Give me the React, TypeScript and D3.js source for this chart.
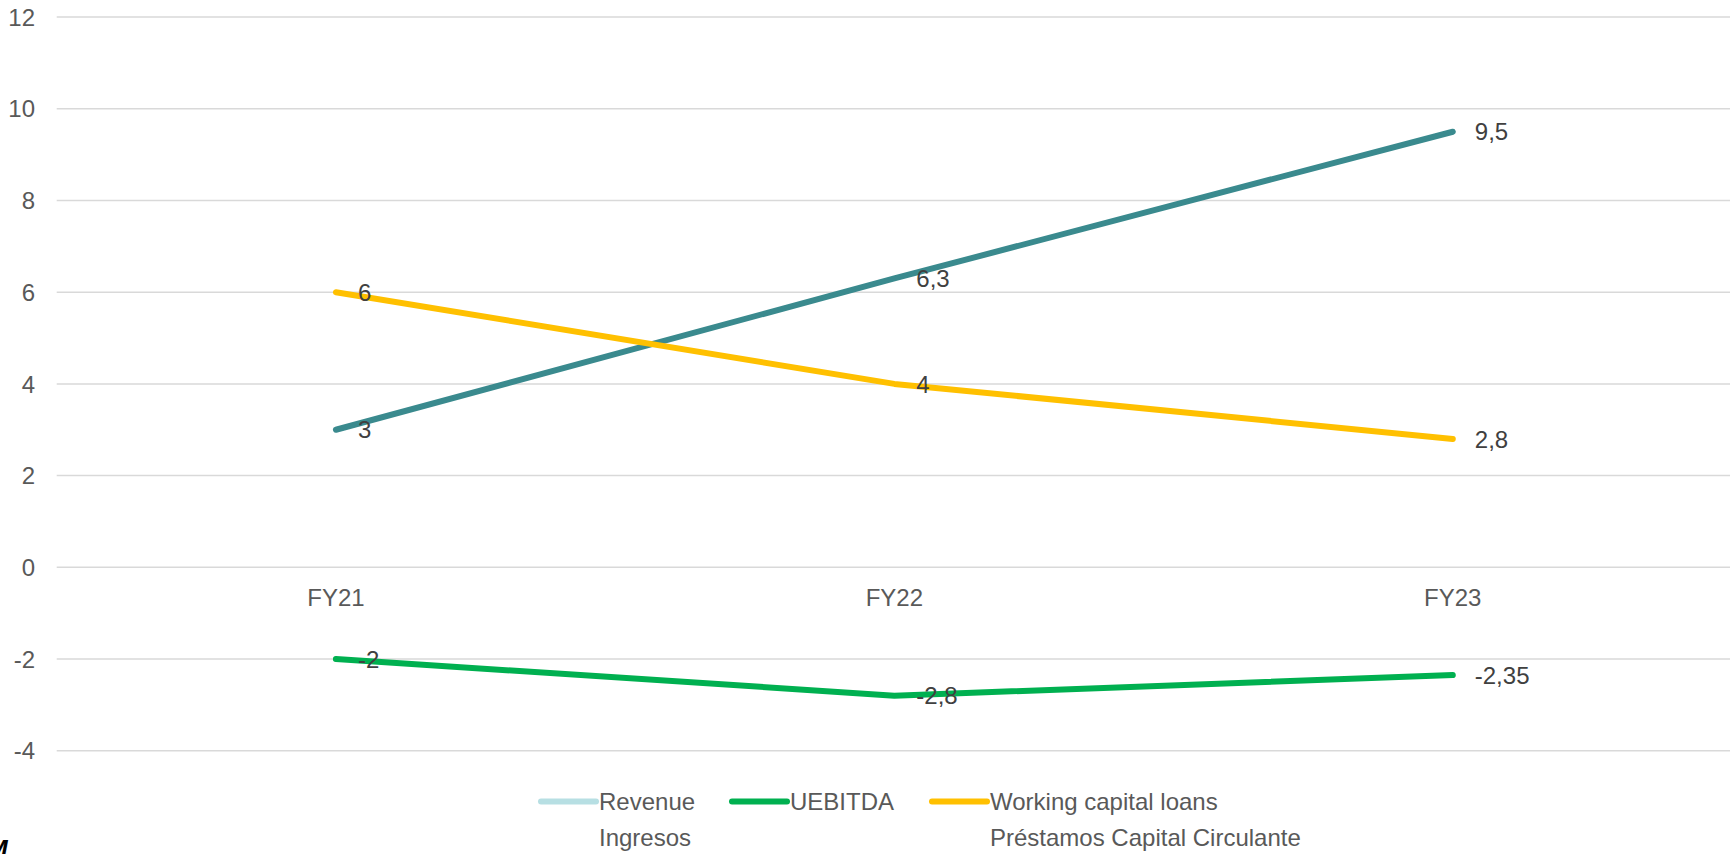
import React, { useEffect, useRef } from "react";
import * as d3 from "d3";

// chart data
const categories = ["FY21", "FY22", "FY23"];
const revenueValues = [3, 6.3, 9.5];
const uebitdaValues = [-2, -2.8, -2.35];
const wcLoanValues = [6, 4, 2.8];
const yTicks = [-4, -2, 0, 2, 4, 6, 8, 10, 12];

const legendItems = [
  { en: "Revenue", es: "Ingresos", color: "#b7dfe3" },
  { en: "UEBITDA", es: "", color: "#00b050" },
  { en: "Working capital loans", es: "Préstamos Capital Circulante", color: "#ffc000" },
];

const W = 1730;
const H = 854;

export default function App() {
  const ref = useRef<SVGSVGElement>(null);

  useEffect(() => {
    const svg = d3.select(ref.current);
    svg.selectAll("*").remove();

    const font = "'Liberation Sans', Arial, sans-serif";
    const left = 56.7;
    const right = 1732;

    const x = d3.scaleBand().domain(categories).range([left, right]);
    const cx = (c: string) => (x(c) as number) + x.bandwidth() / 2;
    const y = d3.scaleLinear().domain([0, 12]).range([567.3, 17.1]);

    svg.append("rect").attr("width", W).attr("height", H).style("fill", "#ffffff");

    // grid + y ticks
    svg.selectAll(".grid")
      .data(yTicks)
      .enter()
      .append("line")
        .attr("x1", left)
        .attr("x2", W)
        .attr("y1", d => y(d))
        .attr("y2", d => y(d))
        .style("stroke", "#d9d9d9")
        .style("stroke-width", 1.5);

    svg.selectAll(".ytick")
      .data(yTicks)
      .enter()
      .append("text")
        .attr("x", 35)
        .attr("y", d => y(d))
        .attr("dy", "0.36em")
        .attr("text-anchor", "end")
        .style("font-family", font)
        .style("font-size", "24px")
        .style("fill", "#595959")
        .text(d => String(d));

    // category labels sit just below the zero line
    svg.selectAll(".xtick")
      .data(categories)
      .enter()
      .append("text")
        .attr("x", d => cx(d))
        .attr("y", 597)
        .attr("dy", "0.36em")
        .attr("text-anchor", "middle")
        .style("font-family", font)
        .style("font-size", "24px")
        .style("fill", "#595959")
        .text(d => d);

    const series = [
      { values: revenueValues, color: "#3a8a8e" },
      { values: wcLoanValues, color: "#ffc000" },
      { values: uebitdaValues, color: "#00b050" },
    ];

    const line = d3.line<number>()
      .x((_, i) => cx(categories[i]))
      .y(d => y(d));

    series.forEach(s => {
      svg.append("path")
        .datum(s.values)
        .attr("d", line)
        .style("fill", "none")
        .style("stroke", s.color)
        .style("stroke-width", 6)
        .style("stroke-linecap", "round")
        .style("stroke-linejoin", "round");
    });

    const fmt = (v: number) => String(v).replace(".", ",");

    series.forEach(s => {
      svg.selectAll(null)
        .data(s.values)
        .enter()
        .append("text")
          .attr("x", (_, i) => cx(categories[i]) + 22)
          .attr("y", d => y(d))
          .attr("dy", "0.36em")
          .style("font-family", font)
          .style("font-size", "24px")
          .style("fill", "#404040")
          .text(d => fmt(d));
    });

    // legend
    const lx = [541, 732, 932];
    const ly = 801.5;
    legendItems.forEach((item, i) => {
      svg.append("line")
        .attr("x1", lx[i])
        .attr("x2", lx[i] + 55)
        .attr("y1", ly)
        .attr("y2", ly)
        .style("stroke", item.color)
        .style("stroke-width", 6)
        .style("stroke-linecap", "round");
      svg.append("text")
        .attr("x", lx[i] + 58)
        .attr("y", ly)
        .attr("dy", "0.36em")
        .style("font-family", font)
        .style("font-size", "24px")
        .style("fill", "#595959")
        .text(item.en);
      if (item.es) {
        svg.append("text")
          .attr("x", lx[i] + 58)
          .attr("y", 837)
          .attr("dy", "0.36em")
          .style("font-family", font)
          .style("font-size", "24px")
          .style("fill", "#595959")
          .text(item.es);
      }
    });

    // clipped italic mark at the bottom left edge
    svg.append("text")
      .attr("x", -14)
      .attr("y", 858)
      .style("font-family", font)
      .style("font-size", "26px")
      .style("font-style", "italic")
      .style("font-weight", "bold")
      .style("fill", "#000000")
      .text("M");
  }, []);

  return (
    <svg
      ref={ref}
      width={W}
      height={H}
      style={{ position: "absolute", left: 0, top: 0, display: "block" }}
    ></svg>
  );
}
